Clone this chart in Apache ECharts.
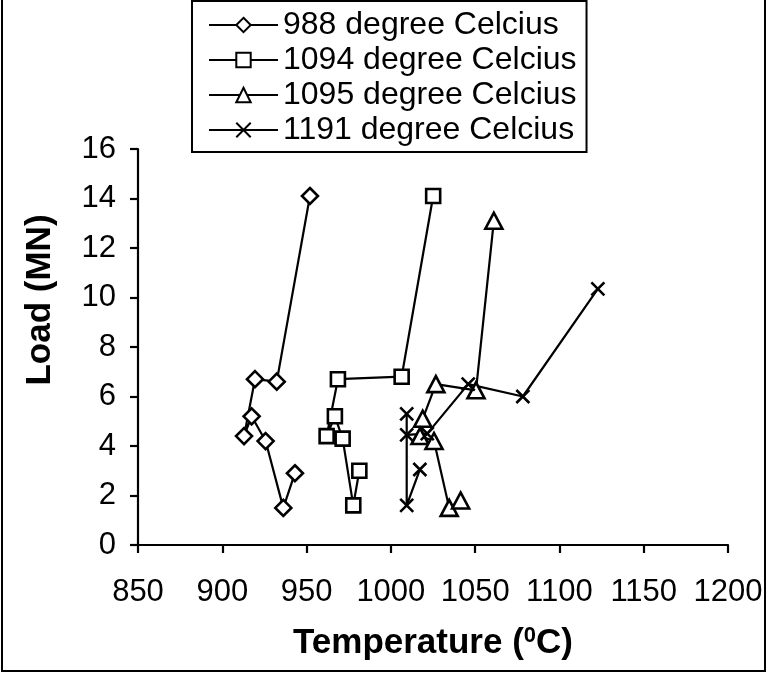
<!DOCTYPE html>
<html>
<head>
<meta charset="utf-8">
<script src="https://cdn.jsdelivr.net/npm/echarts@6/dist/echarts.min.js"></script>
<style>html,body{margin:0;padding:0;background:#fff}#c{width:767px;height:673px}</style>
</head>
<body>
<div id="c"></div>
<script>
const seriesNames = ['988 degree Celcius', '1094 degree Celcius', '1095 degree Celcius', '1191 degree Celcius'];
const temp988 = [952.0, 932.3, 919.4, 912.9, 917.4, 925.7, 936.2, 943.1];
const load988 = [14.1, 6.6, 6.7, 4.4, 5.2, 4.2, 1.5, 2.9];
const temp1094 = [1025.1, 1006.4, 968.6, 961.9, 966.8, 971.4, 977.7, 981.3];
const load1094 = [14.1, 6.8, 6.7, 4.4, 5.2, 4.3, 1.6, 3.0];
const temp1095 = [1061.1, 1050.5, 1026.7, 1018.9, 1017.3, 1025.6, 1034.6, 1041.4];
const load1095 = [13.1, 6.25, 6.5, 5.1, 4.4, 4.2, 1.5, 1.8];
const temp1191 = [1122.8, 1078.3, 1045.9, 1021.6, 1009.4, 1009.4, 1009.4, 1017.2];
const load1191 = [10.35, 6.0, 6.5, 4.5, 4.45, 5.3, 1.6, 3.05];
const xTicks = {min: 850, max: 1200, step: 50};
const yTicks = {min: 0, max: 16, step: 2};

const FONT = "'Liberation Sans', Arial, sans-serif";
const pairs = (xs, ys) => xs.map((x, i) => [x, ys[i]]);
const crossPath = 'path://M0,0L10,10M10,0L0,10';

function mk(name, data, symbol, size) {
  return {
    name, type: 'line', data, symbol, symbolSize: size,
    showAllSymbol: true,
    lineStyle: {color: '#000', width: 2.2},
    itemStyle: {color: '#fff', borderColor: '#000', borderWidth: 2.6},
    emphasis: {disabled: true},
    animation: false
  };
}

const chart = echarts.init(document.getElementById('c'), null, {renderer: 'canvas'});
chart.setOption({
  backgroundColor: '#fff',
  animation: false,
  grid: {left: 138, right: 39, top: 149, bottom: 128, containLabel: false},
  legend: {
    orient: 'vertical', left: 192, top: 1,
    padding: [8, 10, 6, 16],
    itemGap: 3, itemWidth: 69, itemHeight: 18,
    borderColor: '#000', borderWidth: 2, backgroundColor: '#fff',
    textStyle: {fontFamily: FONT, fontSize: 32, color: '#000', lineHeight: 30},
    data: seriesNames
  },
  xAxis: {
    type: 'value', min: xTicks.min, max: xTicks.max, interval: xTicks.step,
    axisLine: {onZero: false, lineStyle: {color: '#000', width: 2.2}},
    axisTick: {show: true, length: 8, lineStyle: {color: '#000', width: 2.2}},
    axisLabel: {fontFamily: FONT, fontSize: 31, color: '#000', margin: 32, formatter: v => String(v)},
    splitLine: {show: false},
    name: '{b|Temperature (}{s|0}{b|C)}',
    nameLocation: 'middle', nameGap: 80,
    nameTextStyle: {
      rich: {
        b: {fontFamily: FONT, fontSize: 35, fontWeight: 'bold', color: '#000'},
        s: {fontFamily: FONT, fontSize: 22, fontWeight: 'bold', color: '#000', verticalAlign: 'top', padding: [0, 0, 14, 0]}
      }
    }
  },
  yAxis: {
    type: 'value', min: yTicks.min, max: yTicks.max, interval: yTicks.step,
    axisLine: {onZero: false, lineStyle: {color: '#000', width: 2.2}},
    axisTick: {show: true, length: 8, lineStyle: {color: '#000', width: 2.2}},
    axisLabel: {fontFamily: FONT, fontSize: 31, color: '#000', margin: 22, formatter: v => String(v)},
    splitLine: {show: false}
  },
  series: [
    mk(seriesNames[0], pairs(temp988, load988), 'diamond', [16, 16]),
    mk(seriesNames[1], pairs(temp1094, load1094), 'rect', 14),
    mk(seriesNames[2], pairs(temp1095, load1095), 'triangle', [17, 16]),
    mk(seriesNames[3], pairs(temp1191, load1191), crossPath, 13)
  ],
  graphic: [
    {type: 'polyline', silent: true, shape: {points: [[2, 0], [2, 671], [765, 671], [765, 0]]},
     style: {stroke: '#000', lineWidth: 2, fill: null}},
    {type: 'text', silent: true, x: 40, y: 300, rotation: Math.PI / 2,
     style: {text: 'Load (MN)', fontFamily: FONT, fontSize: 35, fontWeight: 'bold', fill: '#000', align: 'center', verticalAlign: 'middle'}}
  ]
});
</script>
</body>
</html>
